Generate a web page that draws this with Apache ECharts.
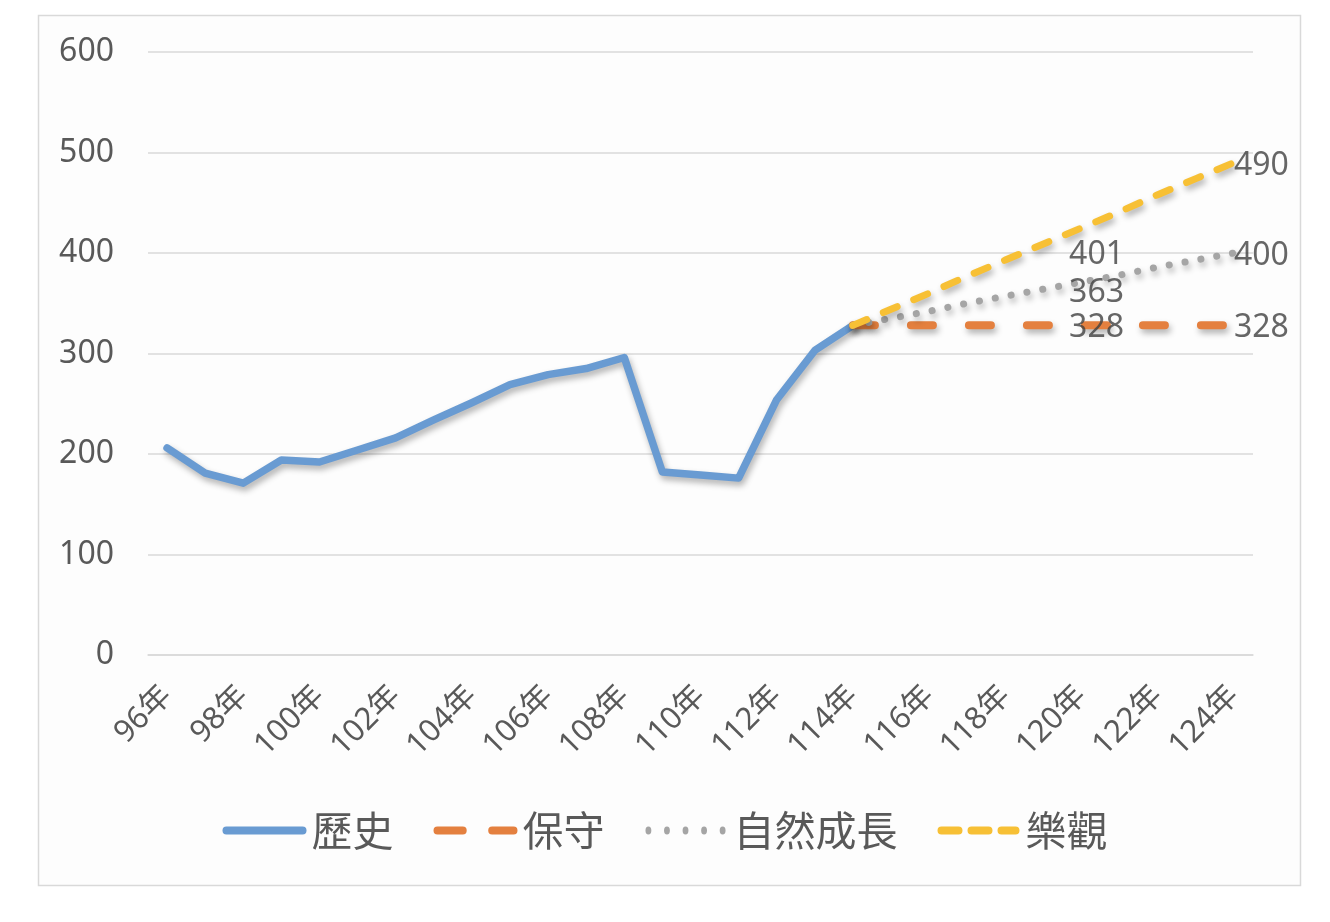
<!DOCTYPE html>
<html>
<head>
<meta charset="utf-8">
<script src="https://cdn.jsdelivr.net/npm/echarts@6/dist/echarts.min.js"></script>
<style>
  html, body { margin: 0; padding: 0; background: #fff; }
  #chart { width: 1330px; height: 922px; }
</style>
</head>
<body>
<div id="chart"></div>
<script>
// 年份 96年 ~ 124年
var years = [];
for (var y = 96; y <= 124; y++) years.push(y + '年');

// 歷史 96~114
var historyData = [206, 181, 171, 194, 192, 204, 216, 234, 251, 269, 279, 285, 296,
                   182, 179, 176, 254, 303, 328];
// 預測 114~124
var conservative = [328, 328, 328, 328, 328, 328, 328, 328, 328, 328, 328];
var natural = [328, 335, 342, 350, 357, 364, 371, 378, 386, 393, 400];
var optimistic = [328, 344, 360, 377, 393, 409, 425, 441, 458, 474, 490];

// 120年 / 124年 的數字標籤
var midLabelYear = '120年';
var midLabels = [401, 363, 328];
var endLabelYear = '124年';
var endLabels = [490, 400, 328];

var seriesNames = ['歷史', '保守', '自然成長', '樂觀'];
var colors = ['#699bd2', '#e4803f', '#a5a5a5', '#f7c035'];

// 圖例圖示 (寬 86 x 高 8)
var legendIcons = [
    'path://M4,0h78a4,4 0 0 1 0,8h-78a4,4 0 0 1 0,-8z',
    'path://M4,0h26a4,4 0 0 1 0,8h-26a4,4 0 0 1 0,-8z M60,0h22a4,4 0 0 1 0,8h-22a4,4 0 0 1 0,-8z',
    'path://M1,4a3,4 0 1,0 6,0a3,4 0 1,0 -6,0z M20,4a3,4 0 1,0 6,0a3,4 0 1,0 -6,0z M39,4a3,4 0 1,0 6,0a3,4 0 1,0 -6,0z M58,4a3,4 0 1,0 6,0a3,4 0 1,0 -6,0z M77,4a3,4 0 1,0 6,0a3,4 0 1,0 -6,0z M0,4h0.01z M86,4h0.01z',
    'path://M4,0h17a4,4 0 0 1 0,8h-17a4,4 0 0 1 0,-8z M34,0h17a4,4 0 0 1 0,8h-17a4,4 0 0 1 0,-8z M64,0h14a4,4 0 0 1 0,8h-14a4,4 0 0 1 0,-8z'
];

function padForecast(arr) {
    var out = [];
    for (var i = 0; i < years.length - arr.length; i++) out.push(null);
    return out.concat(arr);
}

var shadow = {
    shadowColor: 'rgba(0,0,0,0.3)',
    shadowBlur: 6,
    shadowOffsetX: 2,
    shadowOffsetY: 4
};

function lineSeries(name, data, color, width, dash) {
    return {
        name: name,
        type: 'line',
        data: data,
        symbol: 'none',
        lineStyle: Object.assign({
            color: color,
            width: width,
            type: dash || 'solid',
            cap: 'round',
            join: 'round'
        }, shadow),
        itemStyle: { color: color },
        z: 3
    };
}

function labelSeries(year, values, position, offset) {
    return {
        type: 'scatter',
        symbolSize: 0,
        silent: true,
        data: values.map(function (v) { return [year, v]; }),
        label: {
            show: true,
            position: position,
            distance: 0,
            offset: offset,
            fontSize: 32,
            color: '#404040',
            fontFamily: 'Noto Sans',
            formatter: function (p) { return p.value[1]; }
        },
        z: 5
    };
}

var chart = echarts.init(document.getElementById('chart'));

var option = {
    animation: false,
    backgroundColor: '#ffffff',
    textStyle: { fontFamily: 'Noto Sans, Noto Sans CJK TC' },
    graphic: [{
        type: 'rect',
        shape: { x: 38.5, y: 15.5, width: 1262, height: 870 },
        style: { fill: '#fdfdfd', stroke: '#d9d9d9', lineWidth: 1.5 },
        z: -10
    }],
    grid: { left: 148, right: 77, top: 52, bottom: 267 },
    legend: {
        data: seriesNames.map(function (n, i) { return { name: n, icon: legendIcons[i] }; }),
        bottom: 66,
        left: 'center',
        itemWidth: 84,
        itemHeight: 8,
        itemGap: 40,
        textStyle: { fontSize: 41, color: '#595959', fontFamily: 'Noto Sans CJK TC' }
    },
    xAxis: {
        type: 'category',
        data: years,
        boundaryGap: true,
        axisLine: { lineStyle: { color: '#d9d9d9', width: 1.5 } },
        axisTick: { show: false },
        axisLabel: {
            interval: 1,
            rotate: 45,
            margin: 36,
            fontSize: 31,
            color: '#595959',
            fontFamily: 'Noto Sans, Noto Sans CJK TC'
        }
    },
    yAxis: {
        type: 'value',
        min: 0,
        max: 600,
        interval: 100,
        axisLine: { show: false },
        axisTick: { show: false },
        axisLabel: { fontSize: 32, color: '#595959', margin: 34, fontFamily: 'Noto Sans' },
        splitLine: { lineStyle: { color: '#d9d9d9', width: 1.5 } }
    },
    series: [
        lineSeries('歷史', historyData, colors[0], 7.5),
        lineSeries('保守', padForecast(conservative), colors[1], 8, [22, 36]),
        lineSeries('自然成長', padForecast(natural), colors[2], 7, [0.1, 16]),
        lineSeries('樂觀', padForecast(optimistic), colors[3], 7, [15, 18]),
        labelSeries(midLabelYear, midLabels, 'inside', [15, 3]),
        labelSeries(endLabelYear, endLabels, 'right', [0, 3])
    ]
};

chart.setOption(option);
</script>
</body>
</html>
